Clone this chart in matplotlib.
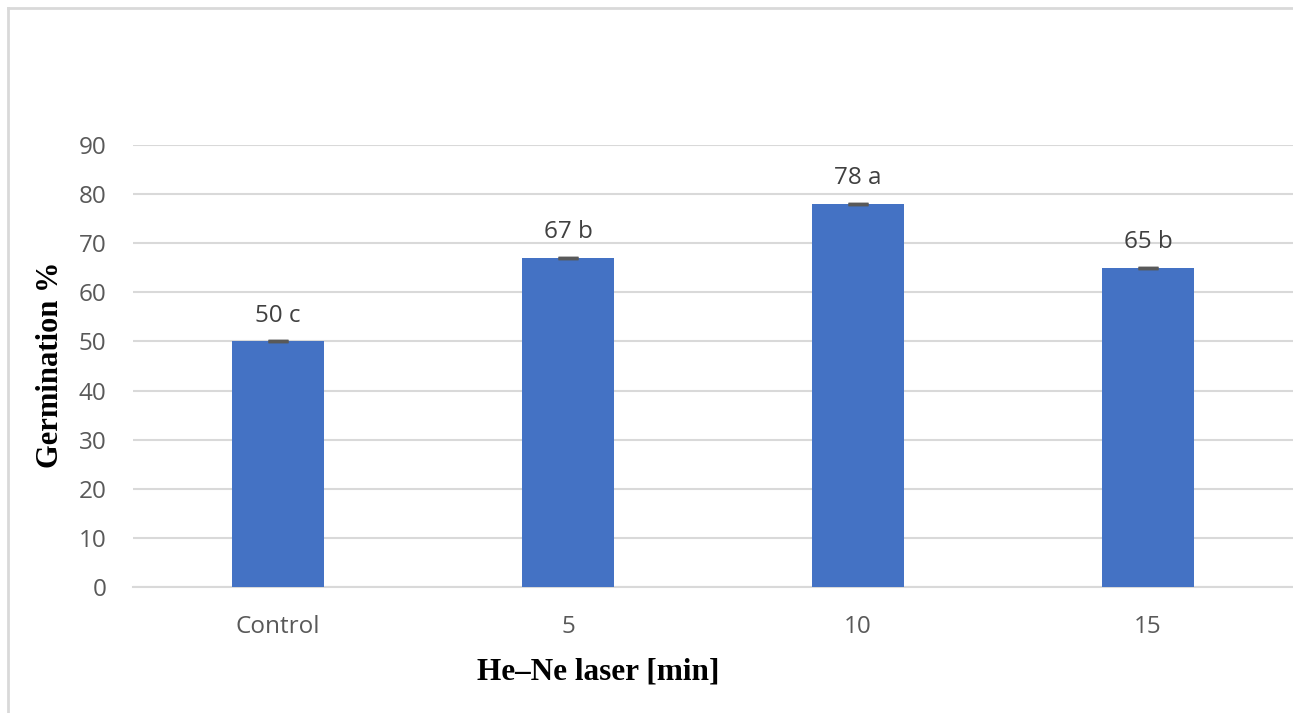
import matplotlib.pyplot as plt
from matplotlib.lines import Line2D

categories = ['Control', '5', '10', '15']
germination = [50, 67, 78, 65]
errors = [0, 0, 0, 0]
letters = ['c', 'b', 'a', 'b']

fig = plt.figure(figsize=(12.93, 7.13), dpi=100)
ax = fig.add_axes([133 / 1293, 1 - 587 / 713, 1160 / 1293, 442 / 713])

x = range(len(categories))
ax.bar(x, germination, width=0.317, color='#4472c4', zorder=3)
ax.errorbar(x, germination, yerr=errors, fmt='none', ecolor='#595959',
            elinewidth=1, capsize=7, capthick=2.5, zorder=4)

for xi, v, l in zip(x, germination, letters):
    ax.text(xi, v + 4.0, f'{v} {l}', ha='center', va='baseline',
            fontsize=17.5, color='#404040', family='Open Sans')

ax.set_xlim(-0.5, 3.5)
ax.set_ylim(0, 90)
ax.set_yticks(range(0, 91, 10))
ax.set_xticks(list(x))
ax.set_xticklabels(categories)
ax.yaxis.grid(True, color='#d9d9d9', linewidth=1.5, zorder=0)
ax.set_axisbelow(True)
for s in ['top', 'right', 'left']:
    ax.spines[s].set_visible(False)
ax.spines['bottom'].set_color('#d9d9d9')
ax.spines['bottom'].set_linewidth(1.5)
ax.tick_params(length=0, labelsize=17.5, labelcolor='#595959')
ax.tick_params(axis='x', pad=20)
ax.tick_params(axis='y', pad=19)
for t in ax.get_xticklabels() + ax.get_yticklabels():
    t.set_family('Open Sans')

fig.text(598 / 1293, 1 - 672 / 713, 'He–Ne laser [min]', ha='center', va='center',
         fontsize=22.5, fontweight='bold', family='Liberation Serif')
fig.text(51 / 1293, 1 - 365 / 713, 'Germination %', ha='center', va='center',
         rotation=90, fontsize=22, fontweight='bold', family='Liberation Serif')

# outer chart frame: top and left edges only
fx, fy = 7.5 / 1293, 1 - 7.5 / 713
fig.add_artist(Line2D([fx, 1], [fy, fy], transform=fig.transFigure,
                      color='#d9d9d9', linewidth=2))
fig.add_artist(Line2D([fx, fx], [0, fy], transform=fig.transFigure,
                      color='#d9d9d9', linewidth=2))

fig.savefig('out.png', dpi=100)
